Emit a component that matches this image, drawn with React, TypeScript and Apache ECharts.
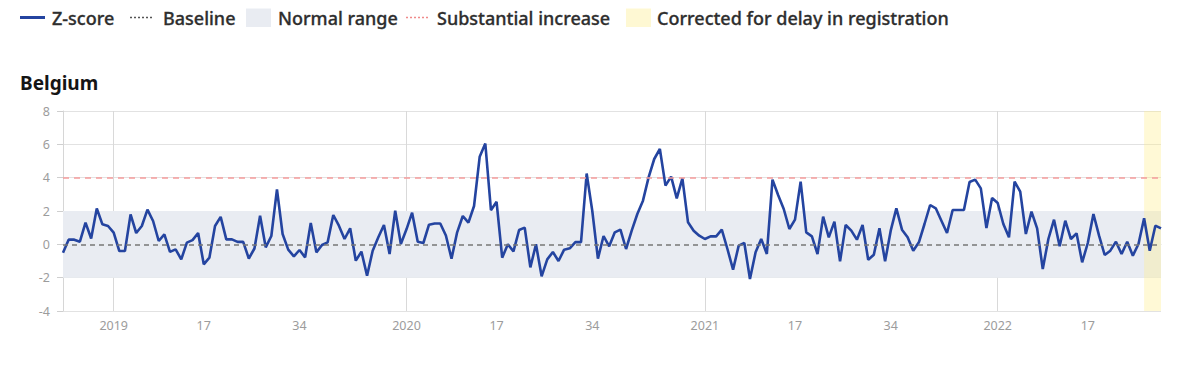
import { useEffect, useRef } from "react";
import * as echarts from "echarts";

// ISO week ranges per year shown on the chart: [year, firstWeek, lastWeek]
const seasons: [number, number, number][] = [
  [2018, 44, 52],
  [2019, 1, 52],
  [2020, 1, 53],
  [2021, 1, 52],
  [2022, 1, 30],
];

// Z-score values per year (weekly)
const z2018 = [-0.5, 0.28, 0.28, 0.16, 1.3, 0.35, 2.15, 1.2, 1.1];
const z2019 = [
  0.7, -0.4, -0.4, 1.8, 0.68, 1.1, 2.08, 1.4, 0.2, 0.6, -0.45, -0.3, -0.9, 0.1, 0.25, 0.68,
  -1.2, -0.8, 1.1, 1.65, 0.3, 0.3, 0.15, 0.15, -0.85, -0.25, 1.72, -0.18, 0.5, 3.3, 0.62, -0.32,
  -0.72, -0.34, -0.78, 1.28, -0.48, -0.04, 0.12, 1.76, 1.12, 0.32, 0.96, -0.98, -0.44, -1.88, -0.38, 0.42,
  1.16, -0.58, 2.02, 0.02,
];
const z2020 = [
  0.9, 1.9, 0.15, 0.08, 1.18, 1.25, 1.25, 0.53, -0.86, 0.72, 1.7, 1.3, 2.3, 5.25, 6.05, 2.05,
  2.55, -0.8, 0.0, -0.42, 0.86, 1.0, -1.38, 0.0, -1.92, -0.9, -0.46, -1.0, -0.32, -0.24, 0.13, 0.13,
  4.25, 2.0, -0.86, 0.5, -0.12, 0.72, 0.88, -0.28, 0.82, 1.82, 2.62, 4.02, 5.12, 5.72, 3.52, 4.06,
  2.76, 3.96, 1.32, 0.82, 0.52,
];
const z2021 = [
  0.32, 0.48, 0.48, 0.88, -0.28, -1.52, -0.08, 0.08, -2.08, -0.48, 0.32, -0.58, 3.88, 2.96, 2.12, 0.92,
  1.48, 3.76, 0.72, 0.48, -0.58, 1.66, 0.42, 1.36, -1.02, 1.16, 0.82, 0.28, 1.16, -0.92, -0.62, 0.96,
  -1.02, 0.82, 2.16, 0.88, 0.42, -0.38, 0.12, 1.22, 2.36, 2.16, 1.42, 0.68, 2.06, 2.06, 2.06, 3.74,
  3.88, 3.36, 0.98, 2.78,
];
const z2022 = [
  2.48, 1.22, 0.42, 3.76, 3.16, 0.62, 1.96, 0.96, -1.48, 0.32, 1.48, -0.12, 1.42, 0.32, 0.66, -1.08,
  0.08, 1.82, 0.52, -0.64, -0.38, 0.16, -0.58, 0.16, -0.68, 0.02, 1.56, -0.38, 1.12, 0.96,
];

const labelWeeks = [1, 17, 34];
const baselineValue = 0;
const normalRange = [-2, 2];
const substantialIncrease = 4;
const correctedFrom = "2022-W27";
const yMin = -4;
const yMax = 8;
const yStep = 2;

const categories: string[] = [];
for (const [year, first, last] of seasons) {
  for (let w = first; w <= last; w++) {
    categories.push(`${year}-W${String(w).padStart(2, "0")}`);
  }
}
const zScore = [...z2018, ...z2019, ...z2020, ...z2021, ...z2022];

const weekOf = (c: string) => parseInt(c.split("-W")[1], 10);
const yearOf = (c: string) => c.split("-W")[0];

const FONT = "'Noto Sans', 'Open Sans', sans-serif";
const BLUE = "#2444a0";

export default function App() {
  const ref = useRef<HTMLDivElement>(null);

  useEffect(() => {
    document.body.style.margin = "0";
    if (!ref.current) return;
    const chart = echarts.init(ref.current, undefined, { renderer: "svg" });

    const isLabelWeek = (_i: number, v: string) => labelWeeks.includes(weekOf(v));
    const isYearStart = (_i: number, v: string) => weekOf(v) === 1;

    const legendText = (x: number, text: string) => ({
      type: "text",
      x,
      y: 17.5,
      style: {
        text,
        fill: "#2e2e2e",
        font: `500 18px ${FONT}`,
        verticalAlign: "middle",
        align: "left",
        stroke: "#2e2e2e",
        lineWidth: 0.3,
      },
    });

    const option: any = {
      animation: false,
      grid: { left: 63, right: 41, top: 111, bottom: 81 },
      xAxis: {
        type: "category",
        data: categories,
        boundaryGap: false,
        axisLine: { show: true, lineStyle: { color: "#d6d6d6", width: 1 } },
        axisTick: {
          show: true,
          interval: isLabelWeek,
          length: 5,
          lineStyle: { color: "#cfcfcf" },
        },
        axisLabel: {
          interval: isLabelWeek,
          formatter: (v: string) => (weekOf(v) === 1 ? yearOf(v) : String(weekOf(v))),
          color: "#9c9c9c",
          fontSize: 12.5,
          fontFamily: FONT,
          margin: 8,
        },
        splitLine: {
          show: true,
          interval: isYearStart,
          lineStyle: { color: "#d9d9d9", width: 1 },
        },
      },
      yAxis: {
        type: "value",
        min: yMin,
        max: yMax,
        interval: yStep,
        axisLine: { show: true, lineStyle: { color: "#d6d6d6" } },
        axisTick: { show: true, length: 6, lineStyle: { color: "#cfcfcf" } },
        axisLabel: { color: "#9c9c9c", fontSize: 12.5, fontFamily: FONT, margin: 13 },
        splitLine: { show: true, lineStyle: { color: "#e2e2e2", width: 1 } },
      },
      series: [
        {
          name: "Normal range",
          type: "line",
          data: [],
          z: 1,
          silent: true,
          markArea: {
            silent: true,
            itemStyle: { color: "#e9ecf2" },
            label: { show: false },
            data: [[{ yAxis: normalRange[0] }, { yAxis: normalRange[1] }]],
          },
        },
        {
          name: "Thresholds",
          type: "line",
          data: [],
          z: 2,
          silent: true,
          markLine: {
            silent: true,
            symbol: ["none", "none"],
            label: { show: false },
            data: [
              {
                yAxis: baselineValue,
                lineStyle: { color: "#777777", type: [5, 4], width: 1.7 },
              },
              {
                yAxis: substantialIncrease,
                lineStyle: { color: "#f59c9c", type: [6, 5], width: 1.7 },
              },
            ],
          },
        },
        {
          name: "Z-score",
          type: "line",
          data: zScore,
          z: 3,
          symbol: "none",
          showSymbol: false,
          lineStyle: { color: BLUE, width: 2.6 },
          itemStyle: { color: BLUE },
        },
        {
          name: "Corrected for delay in registration",
          type: "line",
          data: [],
          z: 10,
          silent: true,
          markArea: {
            silent: true,
            itemStyle: { color: "rgba(255, 238, 140, 0.36)" },
            label: { show: false },
            data: [[{ xAxis: correctedFrom }, { xAxis: categories[categories.length - 1] }]],
          },
        },
      ],
      graphic: [
        {
          type: "text",
          x: 20,
          y: 82.5,
          style: {
            text: "Belgium",
            fill: "#151515",
            font: `bold 19px ${FONT}`,
            verticalAlign: "middle",
          },
        },
        { type: "line", shape: { x1: 20, y1: 17.5, x2: 45, y2: 17.5 }, style: { stroke: BLUE, lineWidth: 3 } },
        legendText(52, "Z-score"),
        {
          type: "line",
          shape: { x1: 130, y1: 17.5, x2: 154, y2: 17.5 },
          style: { stroke: "#555", lineWidth: 1.5, lineDash: [2, 2] },
        },
        legendText(163, "Baseline"),
        { type: "rect", shape: { x: 246, y: 8.5, width: 25, height: 18.5 }, style: { fill: "#e9ecf2" } },
        legendText(278, "Normal range"),
        {
          type: "line",
          shape: { x1: 406, y1: 17.5, x2: 430, y2: 17.5 },
          style: { stroke: "#f08a8a", lineWidth: 1.5, lineDash: [2, 2] },
        },
        legendText(437, "Substantial increase"),
        { type: "rect", shape: { x: 626, y: 8.5, width: 25, height: 18.5 }, style: { fill: "#fef8d3" } },
        legendText(657, "Corrected for delay in registration"),
      ],
    };

    chart.setOption(option);
    return () => chart.dispose();
  }, []);

  return <div ref={ref} style={{ width: 1202, height: 392 }} />;
}
